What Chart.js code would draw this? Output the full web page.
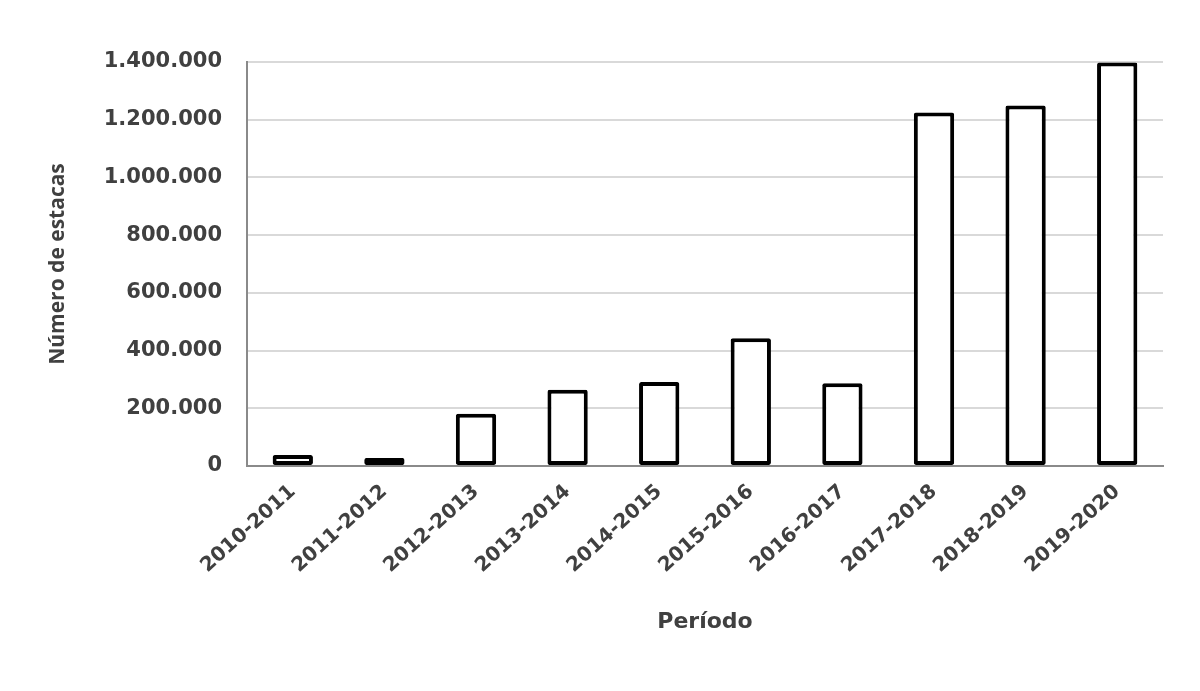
<!DOCTYPE html>
<html>
<head>
<meta charset="utf-8">
<script src="https://cdn.jsdelivr.net/npm/chart.js@4"></script>
<style>
  html, body { margin: 0; padding: 0; background: #fff; }
  #wrap { width: 1200px; height: 691px; position: relative; }
</style>
</head>
<body>
<div id="wrap"><canvas id="estacasChart"></canvas></div>
<script>
// Periods (x axis)
const periods = ['2010-2011', '2011-2012', '2012-2013', '2013-2014', '2014-2015',
                 '2015-2016', '2016-2017', '2017-2018', '2018-2019', '2019-2020'];
// Number of stakes per period
const estacas = [38000, 28000, 181000, 264000, 291000, 443000, 287000, 1225000, 1249000, 1398000];
// Y axis range
const yMin = 0;
const yMax = 1400000;
const yStep = 200000;

const yTitle = 'Número de estacas';
const xTitle = 'Período';

const textColor = '#404040';

function formatThousands(v) {
    return String(v).replace(/\B(?=(\d{3})+(?!\d))/g, '.');
}

new Chart(document.getElementById('estacasChart').getContext('2d'), {
    type: 'bar',
    data: {
        labels: periods,
        datasets: [{
            data: estacas,
            backgroundColor: '#ffffff',
            borderColor: '#000000',
            borderWidth: 4,
            borderRadius: 2,
            borderSkipped: false,
            barPercentage: 0.44,
            categoryPercentage: 1
        }]
    },
    options: {
        responsive: true,
        maintainAspectRatio: false,
        animation: false,
        devicePixelRatio: 1,
        layout: { padding: { top: 62, right: 37, bottom: 0, left: 0 } },
        plugins: {
            legend: { display: false },
            tooltip: { enabled: false }
        },
        scales: {
            x: {
                offset: true,
                grid: { display: false, drawTicks: false },
                border: { display: true, color: '#8a8a8a', width: 2 },
                ticks: {
                    color: textColor,
                    font: { family: 'DejaVu Sans', weight: 'bold', size: 20 },
                    minRotation: 42,
                    maxRotation: 42,
                    padding: 14,
                    autoSkip: false
                },
                title: {
                    display: true,
                    text: xTitle,
                    color: textColor,
                    font: { family: 'DejaVu Sans', weight: 'bold', size: 22 },
                    padding: { top: 56, bottom: 56 }
                },
                afterFit: function(scale) { scale.height = 225; }
            },
            y: {
                min: yMin,
                max: yMax,
                grid: { color: '#d9d9d9', lineWidth: 2, drawTicks: false },
                border: { display: true, color: '#8a8a8a', width: 2 },
                ticks: {
                    stepSize: yStep,
                    color: textColor,
                    padding: 25,
                    font: { family: 'DejaVu Sans', weight: 'bold', size: 21 },
                    callback: v => formatThousands(v)
                },
                title: {
                    display: true,
                    text: yTitle,
                    color: textColor,
                    font: { family: 'Open Sans', weight: 'bold', size: 21 },
                    padding: { top: 45, bottom: 45 }
                },
                afterFit: function(scale) { scale.width = 247; }
            }
        }
    }
});
</script>
</body>
</html>
